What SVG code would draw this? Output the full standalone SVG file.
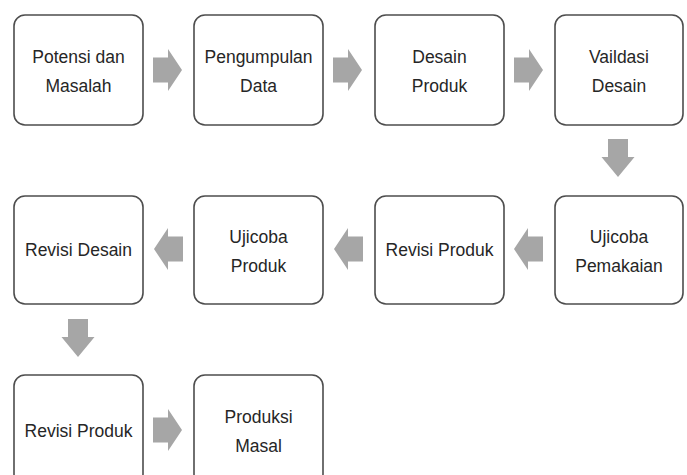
<svg xmlns="http://www.w3.org/2000/svg" width="687" height="475" viewBox="0 0 687 475">
<defs>
<style>
.box{fill:#fff;stroke:#4d4d4d;stroke-width:1.6}
.t{font-family:"Liberation Sans","Open Sans",sans-serif;font-size:17.5px;fill:#262626;text-anchor:middle}
.ar{fill:#a6a6a6}
</style>
<path id="ra" d="M0,-12.5 H15 V-21 L29,0 L15,21 V12.5 H0 Z"/>
<path id="la" d="M0,-12.5 H-15 V-21 L-29,0 L-15,21 V12.5 H0 Z"/>
<path id="da" d="M-10,0 V18 H-16.5 L0,38 L16.5,18 H10 V0 Z"/>
</defs>
<rect width="687" height="475" fill="#fff"/>
<g id="connectors" class="ar">
<use href="#ra" x="153" y="70"/>
<use href="#ra" x="333" y="70"/>
<use href="#ra" x="514" y="70"/>
<use href="#da" x="618" y="139"/>
<use href="#la" x="543" y="249"/>
<use href="#la" x="363" y="249"/>
<use href="#la" x="183" y="249"/>
<use href="#da" x="78" y="319"/>
<use href="#ra" x="153" y="430"/>
</g>
<g id="n1"><rect class="box" x="14" y="15" width="129" height="110" rx="11"/><text class="t" x="78.5" y="63">Potensi dan</text><text class="t" x="78.5" y="92">Masalah</text></g>
<g id="n2"><rect class="box" x="194" y="15" width="129" height="110" rx="11"/><text class="t" x="258.5" y="63">Pengumpulan</text><text class="t" x="258.5" y="92">Data</text></g>
<g id="n3"><rect class="box" x="375" y="15" width="129" height="110" rx="11"/><text class="t" x="439.5" y="63">Desain</text><text class="t" x="439.5" y="92">Produk</text></g>
<g id="n4"><rect class="box" x="555" y="15" width="128" height="110" rx="11"/><text class="t" x="619" y="63">Vaildasi</text><text class="t" x="619" y="92">Desain</text></g>
<g id="n5"><rect class="box" x="555" y="196" width="128" height="108" rx="11"/><text class="t" x="619" y="243">Ujicoba</text><text class="t" x="619" y="272">Pemakaian</text></g>
<g id="n6"><rect class="box" x="375" y="196" width="129" height="108" rx="11"/><text class="t" x="439.5" y="256">Revisi Produk</text></g>
<g id="n7"><rect class="box" x="194" y="196" width="129" height="108" rx="11"/><text class="t" x="258.5" y="243">Ujicoba</text><text class="t" x="258.5" y="272">Produk</text></g>
<g id="n8"><rect class="box" x="14" y="196" width="129" height="108" rx="11"/><text class="t" x="78.5" y="256">Revisi Desain</text></g>
<g id="n9"><rect class="box" x="14" y="375" width="129" height="110" rx="11"/><text class="t" x="78.5" y="437">Revisi Produk</text></g>
<g id="n10"><rect class="box" x="194" y="375" width="129" height="110" rx="11"/><text class="t" x="258.5" y="423">Produksi</text><text class="t" x="258.5" y="452">Masal</text></g>
</svg>
